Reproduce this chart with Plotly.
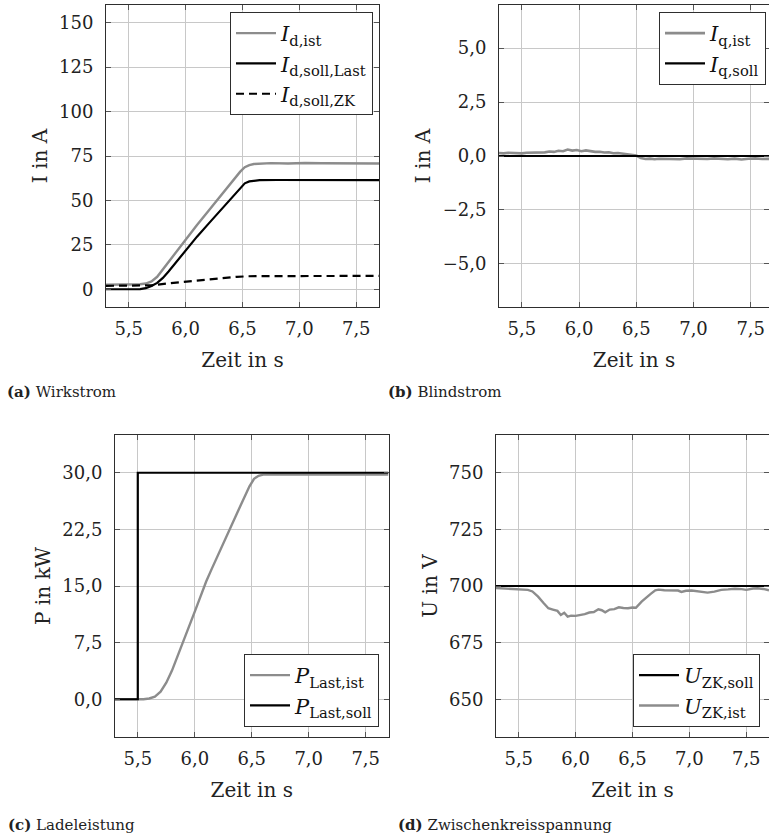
import plotly.graph_objects as go

W, H = 769, 837

# ---------------- (a) Wirkstrom: d-axis currents ----------------
t_id_ist = [5.30, 5.40, 5.50, 5.60, 5.65, 5.70, 5.75, 5.80, 5.85, 5.90,
            5.95, 6.00, 6.10, 6.20, 6.30, 6.40, 6.48, 6.52, 6.56, 6.60,
            6.65, 6.75, 6.90, 7.05, 7.20, 7.35, 7.50, 7.60, 7.70]
id_ist = [2.5, 2.5, 2.6, 2.8, 3.2, 4.4, 7.0, 11.2, 15.4, 19.6,
          23.9, 28.2, 36.2, 44.1, 52.0, 59.9, 66.2, 68.7, 69.9, 70.5,
          70.8, 71.0, 70.8, 71.1, 70.9, 71.0, 70.8, 71.1, 70.8]

t_id_soll_last = [5.30, 5.50, 5.60, 5.65, 5.70, 5.75, 5.80, 5.85, 5.90, 5.95,
                  6.00, 6.10, 6.20, 6.30, 6.40, 6.48, 6.52, 6.56, 6.60, 6.65,
                  6.80, 7.00, 7.20, 7.40, 7.60, 7.70]
id_soll_last = [0.0, 0.0, 0.1, 0.6, 1.8, 3.6, 6.4, 10.0, 14.0, 18.2,
                22.2, 29.6, 36.8, 44.0, 51.2, 57.0, 59.6, 60.7, 61.2, 61.4,
                61.5, 61.4, 61.5, 61.4, 61.5, 61.4]

t_id_soll_zk = [5.30, 5.65, 5.70, 5.85, 6.00, 6.15, 6.30, 6.45, 6.55, 6.65, 7.70]
id_soll_zk = [1.9, 1.9, 2.2, 3.3, 4.3, 5.3, 6.2, 7.0, 7.3, 7.4, 7.5]

# ---------------- (b) Blindstrom: q-axis currents ----------------
t_iq = [5.30, 5.34, 5.38, 5.42, 5.46, 5.50, 5.54, 5.58, 5.62, 5.66,
        5.70, 5.74, 5.78, 5.82, 5.86, 5.90, 5.94, 5.98, 6.02, 6.06,
        6.10, 6.14, 6.18, 6.22, 6.26, 6.30, 6.34, 6.38, 6.42, 6.46,
        6.50, 6.54, 6.58, 6.62, 6.66, 6.70, 6.76, 6.82, 6.88, 6.94,
        7.00, 7.06, 7.12, 7.18, 7.24, 7.30, 7.36, 7.42, 7.48, 7.54,
        7.60, 7.66, 7.70]
iq_ist = [0.14, 0.12, 0.15, 0.13, 0.14, 0.12, 0.15, 0.16, 0.14, 0.18,
          0.17, 0.21, 0.19, 0.24, 0.22, 0.30, 0.25, 0.28, 0.22, 0.26,
          0.21, 0.19, 0.20, 0.16, 0.17, 0.13, 0.14, 0.11, 0.08, 0.06,
          0.02, -0.09, -0.14, -0.12, -0.15, -0.13, -0.14, -0.12, -0.15, -0.11,
          -0.13, -0.12, -0.14, -0.11, -0.13, -0.15, -0.12, -0.16, -0.13, -0.11,
          -0.14, -0.12, -0.13]
t_iq_soll = [5.30, 7.70]
iq_soll = [0.0, 0.0]

# ---------------- (c) Ladeleistung: charging power ----------------
t_p_ist = [5.30, 5.55, 5.60, 5.65, 5.70, 5.75, 5.80, 5.85, 5.90, 5.95,
           6.00, 6.05, 6.10, 6.15, 6.20, 6.30, 6.40, 6.48, 6.52, 6.56,
           6.60, 6.70, 6.90, 7.10, 7.30, 7.50, 7.70]
p_ist = [0.0, 0.0, 0.1, 0.35, 1.0, 2.2, 3.8, 5.7, 7.6, 9.6,
         11.6, 13.6, 15.6, 17.3, 19.0, 22.3, 25.6, 28.2, 29.2, 29.6,
         29.75, 29.8, 29.8, 29.75, 29.8, 29.8, 29.75]
t_p_soll = [5.30, 5.50, 5.50, 7.70]
p_soll = [0.0, 0.0, 30.0, 30.0]

# ---------------- (d) Zwischenkreisspannung: DC-link voltage ----------------
t_u_soll = [5.30, 7.70]
u_soll = [700.0, 700.0]
t_u_ist = [5.30, 5.40, 5.50, 5.58, 5.62, 5.67, 5.72, 5.76, 5.80, 5.84,
           5.87, 5.90, 5.93, 5.96, 6.00, 6.04, 6.08, 6.12, 6.16, 6.20,
           6.23, 6.26, 6.30, 6.34, 6.38, 6.42, 6.46, 6.50, 6.53, 6.58,
           6.62, 6.66, 6.70, 6.73, 6.78, 6.84, 6.90, 6.93, 6.97, 7.02,
           7.08, 7.16, 7.22, 7.28, 7.34, 7.40, 7.46, 7.50, 7.56, 7.60,
           7.65, 7.70]
u_ist = [699.1, 698.9, 698.6, 698.3, 697.6, 695.3, 692.4, 690.2, 689.6, 689.0,
         687.2, 688.2, 686.5, 686.9, 686.8, 687.1, 687.6, 688.3, 688.5, 689.7,
         689.3, 688.4, 689.6, 689.8, 690.6, 690.3, 690.2, 690.5, 690.4, 693.1,
         695.0, 696.5, 698.1, 698.4, 698.1, 697.9, 698.0, 697.4, 697.9, 698.0,
         697.6, 697.1, 697.5, 698.3, 698.5, 698.8, 698.6, 698.3, 698.9, 699.0,
         698.7, 698.1]

# ---------------- styling ----------------
FONT = "DejaVu Serif"
GREY = "#8c8c8c"
BLACK = "#000000"
GRID = "#c8c8c8"
FRAME = "#2e2e2e"
TICK_FS = 18
TITLE_FS = 20
LEG_FS = 21


def px_x(p):
    return p / W


def px_y(p):
    return 1 - p / H


fig = go.Figure()


def add(x, y, name, color, ax, leg, dash="solid", width=2.2):
    fig.add_trace(go.Scatter(
        x=x, y=y, mode="lines", name=name,
        line=dict(color=color, width=width, dash=dash),
        xaxis="x" + ax, yaxis="y" + ax, legend=leg,
        hoverinfo="skip",
    ))


# (a)
add(t_id_ist, id_ist, "<i>I</i><sub>d,ist</sub>", GREY, "", "legend", width=2.4)
add(t_id_soll_last, id_soll_last, "<i>I</i><sub>d,soll,Last</sub>", BLACK, "", "legend")
add(t_id_soll_zk, id_soll_zk, "<i>I</i><sub>d,soll,ZK</sub>", BLACK, "", "legend", dash="8px,5px")
# (b)
add(t_iq, iq_ist, "<i>I</i><sub>q,ist</sub>", GREY, "2", "legend2", width=2.6)
add(t_iq_soll, iq_soll, "<i>I</i><sub>q,soll</sub>", BLACK, "2", "legend2")
# (c)
add(t_p_ist, p_ist, "<i>P</i><sub>Last,ist</sub>", GREY, "3", "legend3", width=2.4)
add(t_p_soll, p_soll, "<i>P</i><sub>Last,soll</sub>", BLACK, "3", "legend3")
# (d)
add(t_u_soll, u_soll, "<i>U</i><sub>ZK,soll</sub>", BLACK, "4", "legend4")
add(t_u_ist, u_ist, "<i>U</i><sub>ZK,ist</sub>", GREY, "4", "legend4", width=2.4)


def xaxis(dom, rng, anchor):
    return dict(
        domain=dom, range=rng, anchor=anchor,
        tickmode="linear", tick0=5.5, dtick=0.5, tickformat=".1f",
        showgrid=True, gridcolor=GRID, gridwidth=1, zeroline=False,
        showline=True, linecolor=FRAME, linewidth=1, mirror="ticks",
        ticks="inside", ticklen=5, tickcolor="#555555",
        tickfont=dict(family=FONT, size=TICK_FS, color="#222"),
        ticklabelstandoff=5,
        title=dict(text="Zeit in s", font=dict(family=FONT, size=TITLE_FS, color="#222"), standoff=15),
    )


def yaxis(dom, rng, anchor, dtick, fmt, title, tick0=0):
    return dict(
        domain=dom, range=rng, anchor=anchor,
        tickmode="linear", tick0=tick0, dtick=dtick, tickformat=fmt,
        showgrid=True, gridcolor=GRID, gridwidth=1, zeroline=False,
        showline=True, linecolor=FRAME, linewidth=1, mirror="ticks",
        ticks="inside", ticklen=5, tickcolor="#555555",
        tickfont=dict(family=FONT, size=TICK_FS, color="#222"),
        ticklabelstandoff=8,
        title=dict(text=title, font=dict(family=FONT, size=TITLE_FS, color="#222"), standoff=6),
    )


top_dom = [px_y(307), px_y(5)]
bot_dom = [px_y(737), px_y(435)]

legend_common = dict(
    bgcolor="white", bordercolor=FRAME, borderwidth=1,
    font=dict(family=FONT, size=LEG_FS, color="#111"),
    itemwidth=40, tracegroupgap=0,
)

fig.update_layout(
    width=W, height=H,
    margin=dict(l=0, r=0, t=0, b=0),
    paper_bgcolor="white", plot_bgcolor="white",
    separators=", ",
    showlegend=True,
    xaxis=xaxis([px_x(106), px_x(379)], [5.3, 7.7], "y"),
    yaxis=yaxis(top_dom, [-10, 160], "x", 25, "d", "I in A"),
    xaxis2=xaxis([px_x(499), 1.0], [5.3, 7.66], "y2"),
    yaxis2=yaxis(top_dom, [-7, 7], "x2", 2.5, ".1f", "I in A"),
    xaxis3=xaxis([px_x(115), px_x(388.5)], [5.3, 7.7], "y3"),
    yaxis3=yaxis(bot_dom, [-5, 35], "x3", 7.5, ".1f", "P in kW"),
    xaxis4=xaxis([px_x(496), 1.0], [5.3, 7.7], "y4"),
    yaxis4=yaxis(bot_dom, [633.33, 766.67], "x4", 25, "d", "U in V", tick0=650),
    legend=dict(x=px_x(373), y=px_y(12), xanchor="right", yanchor="top", **legend_common),
    legend2=dict(x=px_x(766), y=px_y(12), xanchor="right", yanchor="top", **legend_common),
    legend3=dict(x=px_x(379), y=px_y(727), xanchor="right", yanchor="bottom", **legend_common),
    legend4=dict(x=px_x(760), y=px_y(727), xanchor="right", yanchor="bottom", **legend_common),
)

captions = [
    ("<b>(a)</b> Wirkstrom", 5, 392),
    ("<b>(b)</b> Blindstrom", 386, 392),
    ("<b>(c)</b> Ladeleistung", 6, 825),
    ("<b>(d)</b> Zwischenkreisspannung", 396, 825),
]
for text, xp, yp in captions:
    fig.add_annotation(
        text=text, xref="paper", yref="paper", x=px_x(xp), y=px_y(yp),
        xanchor="left", yanchor="middle", showarrow=False,
        font=dict(family=FONT, size=15, color="#222"),
    )

fig.write_html("out.html")
